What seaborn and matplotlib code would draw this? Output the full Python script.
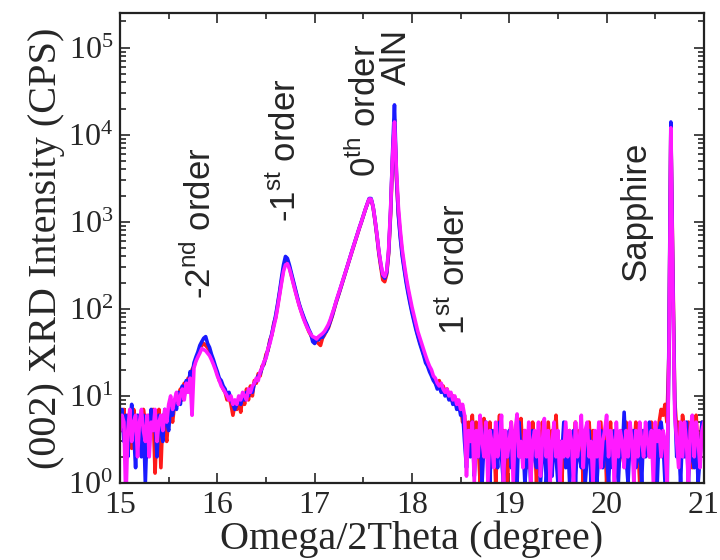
import numpy as np
import pandas as pd
import matplotlib
matplotlib.use("Agg")
import matplotlib.pyplot as plt
import seaborn as sns
from matplotlib.ticker import LogLocator, MultipleLocator, NullFormatter

# Data: scan grid 15.00 .. 21.00 deg, step 0.02
two_theta = np.round(np.arange(0, 301) * 0.02 + 15.0, 2)

blue = [
    5, 7, 3, 6, 2, 5, 8, 4, 1.5, 6,
    4, 2, 6, 1, 5, 3, 7, 4, 5, 2,
    6, 4, 3, 7, 5, 4, 8, 6, 9, 7,
    11, 8, 13, 10, 15, 12, 19, 17, 24, 28,
    32, 38, 42, 46, 48, 40, 36, 30, 26, 22,
    19, 16, 15, 13, 12, 10, 11, 9, 8, 7,
    8, 9, 8, 10, 9, 11, 10, 12, 11, 14,
    15, 17, 18, 21, 24, 28, 34, 42, 52, 66,
    85, 115, 160, 230, 320, 400, 380, 320, 260, 210,
    170, 140, 115, 98, 85, 74, 66, 58, 52, 42,
    40, 46, 44, 48, 47, 52, 55, 62, 72, 84,
    100, 120, 140, 165, 195, 230, 270, 320, 380, 450,
    530, 620, 730, 860, 1000, 1180, 1380, 1600, 1850, 1850,
    1500, 1050, 700, 450, 320, 240, 225, 260, 450, 1300,
    6000, 22000, 3500, 1200, 650, 400, 280, 200, 150, 115,
    90, 72, 58, 48, 40, 34, 29, 24, 22, 19,
    17, 15, 14, 12, 13, 11, 12, 10, 11, 9,
    10, 8, 9, 7, 8, 6, 7, 3, 1.5, 4,
    2, 5, 1.2, 3, 2, 4, 1, 3, 5, 2,
    1, 4, 2, 3, 1.5, 5, 2, 1, 3, 2,
    4, 1.5, 2, 3, 1, 5, 2, 3, 1, 2,
    3, 1, 4, 2, 1.5, 3, 1, 2, 4, 1,
    2, 3, 1.2, 4, 2, 1, 3, 2, 5, 1.5,
    3, 1, 2, 4, 1, 3, 2, 1.5, 3, 1,
    2, 4, 1, 3, 2, 1, 2.5, 4, 1.5, 3,
    2, 1, 3, 1.5, 4, 2, 1, 3, 2, 6.5,
    2, 1, 3, 2, 4, 1.5, 2, 3, 1, 4,
    2, 3, 5, 2, 4, 3, 1, 4, 5, 3,
    1, 0.5, 40, 14000, 250, 8, 2, 3, 1, 4,
    2, 5, 1, 3, 2, 1.5, 4, 1, 2, 5,
    3,
]

red = [
    6, 4, 7, 3, 6, 5, 2.5, 7, 5, 4,
    6, 3, 7, 5, 2, 6, 4, 7, 1.3, 5,
    7, 1.5, 6, 4, 3, 6, 7, 5, 8, 9,
    8, 12, 9, 14, 11, 16, 14, 20, 22, 26,
    29, 34, 38, 40, 38, 36, 33, 28, 24, 21,
    18, 15, 14, 12, 11, 9, 10, 8, 6, 8,
    7, 9, 6.5, 10, 8, 12, 9, 13, 10, 15,
    14, 18, 17, 22, 23, 30, 33, 44, 50, 68,
    80, 110, 150, 210, 290, 350, 345, 300, 245, 200,
    165, 135, 112, 95, 82, 72, 63, 55, 50, 45,
    44, 42, 40, 38, 46, 50, 56, 60, 70, 82,
    98, 118, 138, 162, 192, 228, 268, 318, 375, 445,
    525, 615, 720, 850, 990, 1170, 1370, 1590, 1820, 1800,
    1480, 1030, 680, 430, 300, 215, 205, 250, 430, 1200,
    5000, 15000, 3200, 1250, 700, 430, 300, 215, 160, 122,
    95, 76, 62, 50, 42, 36, 30, 26, 23, 20,
    18, 16, 14, 13, 15, 12, 13, 11, 12, 10,
    9, 10, 8, 9, 7, 8, 5, 6, 3, 5,
    4, 6, 2, 5, 3, 1, 4, 5.5, 2, 3,
    5, 2, 4, 1, 3, 6, 2, 4, 3, 1,
    3, 5, 2, 4, 2, 3, 5.5, 2, 4, 1.5,
    4, 2, 5, 3, 1, 4, 2, 5, 3, 2,
    5, 2, 4, 3, 6, 2, 3, 1, 4, 3,
    2, 4, 1.5, 3, 5, 2, 4, 3, 1, 4,
    3, 5, 2, 4, 1.5, 3, 2, 5, 2, 4,
    1, 3, 5, 2, 3, 4, 1.5, 2, 4, 3,
    5, 2, 3, 4, 2, 5, 3, 1, 4, 2,
    3, 4, 2, 5, 3, 4, 2, 5, 7, 6,
    8, 5, 30, 12000, 300, 9, 4, 5, 2, 6,
    4, 2, 5, 3, 1.5, 4, 6, 2, 3, 5,
    4,
]

magenta = [
    4, 6, 5, 0.6, 4, 7, 3, 5, 6, 2,
    5, 7, 4, 3, 6, 2, 5, 4, 7, 3,
    5, 6, 4, 7, 5, 8, 10, 7, 9, 11,
    8, 10, 12, 9, 14, 11, 16, 6, 21, 25,
    28, 31, 35, 34, 33, 31, 29, 26, 23, 20,
    17, 15, 13, 12, 11, 10, 9, 10, 8, 9,
    8, 10, 9, 11, 10, 9, 12, 11, 13, 14,
    16, 15, 19, 21, 25, 27, 35, 40, 50, 62,
    78, 105, 145, 200, 270, 320, 330, 290, 240, 195,
    160, 132, 110, 94, 80, 70, 62, 56, 51, 48,
    47, 45, 48, 50, 52, 55, 60, 66, 75, 88,
    102, 122, 144, 168, 198, 232, 272, 322, 382, 452,
    530, 620, 730, 860, 1000, 1180, 1380, 1600, 1830, 1820,
    1500, 1060, 710, 460, 330, 250, 235, 275, 480, 1400,
    5500, 14000, 4000, 1500, 800, 480, 330, 235, 175, 135,
    105, 84, 68, 55, 47, 40, 34, 29, 25, 22,
    20, 17, 16, 14, 13, 14, 12, 11, 12, 10,
    11, 9, 10, 8, 9, 7, 8, 6, 1.2, 4,
    3, 5, 1, 4, 2, 6, 3, 2, 5, 1,
    4, 3, 1.5, 5, 2, 3, 6, 1, 4, 2,
    3, 5, 1, 4, 6.2, 2, 3, 1.5, 4, 2,
    5, 1, 3, 4, 2, 5, 1.2, 3, 5.5, 2,
    4, 1, 3, 5, 2, 4, 1, 3, 2, 5,
    2, 4, 3, 1, 5, 2, 3, 6, 1.5, 4,
    5, 2, 3, 1, 4, 2, 5, 1.5, 3, 4,
    6, 2, 4, 3, 1, 5, 2, 4, 3, 1.5,
    4, 2, 5, 3, 1, 4, 2, 5, 3, 2,
    5, 3, 2, 4, 1, 5, 3, 4, 2, 4,
    3, 1, 25, 12000, 200, 6, 3, 1.5, 5, 2,
    5, 3, 1, 4, 6, 2, 5, 3, 1.5, 4,
    5,
]

series_names = ["red", "blue", "magenta"]
series_colors = {"red": "#ff1a1a", "blue": "#1a1aff", "magenta": "#ff1aff"}

df = pd.concat([
    pd.DataFrame({"x": two_theta, "y": red, "scan": "red"}),
    pd.DataFrame({"x": two_theta, "y": blue, "scan": "blue"}),
    pd.DataFrame({"x": two_theta, "y": magenta, "scan": "magenta"}),
], ignore_index=True)

sns.set_style("ticks")
plt.rcParams["font.family"] = ["Liberation Serif", "DejaVu Serif"]
plt.rcParams["mathtext.fontset"] = "custom"
plt.rcParams["mathtext.rm"] = "Liberation Serif"

fig = plt.figure(figsize=(7.2, 5.6), dpi=100)
ax = fig.add_axes([0.1667, 0.1375, 0.8110, 0.8393])
ax.set_yscale("log")

for name in series_names:
    sns.lineplot(data=df[df["scan"] == name], x="x", y="y", color=series_colors[name],
                 lw=2.6, ax=ax, legend=False, estimator=None, sort=False)

ax.set_xlim(15, 21)
ax.set_ylim(1, 2.5e5)
ax.xaxis.set_major_locator(MultipleLocator(1))
ax.xaxis.set_minor_locator(MultipleLocator(0.5))
ax.yaxis.set_major_locator(LogLocator(base=10, numticks=10))
ax.yaxis.set_minor_locator(LogLocator(base=10, subs=np.arange(2, 10), numticks=20))
ax.yaxis.set_minor_formatter(NullFormatter())

ax.tick_params(which="both", direction="in", top=True, right=True, width=1.2, labelsize=23)
ax.tick_params(which="major", length=7)
ax.tick_params(which="minor", length=4)
ax.tick_params(axis="x", which="major", pad=6)
ax.tick_params(axis="y", which="major", pad=5)
for s in ax.spines.values():
    s.set_linewidth(1.6)
    s.set_color("#222222")

ax.set_xlabel("Omega/2Theta (degree)", fontsize=29, labelpad=0)
ax.set_ylabel("(002) XRD Intensity (CPS)", fontsize=29, labelpad=2)

sans = ["Liberation Sans", "DejaVu Sans"]
labels = [
    (15.82, 130, r"-2$^{\mathregular{nd}}$ order"),
    (16.71, 1000, r"-1$^{\mathregular{st}}$ order"),
    (17.52, 3300, r"0$^{\mathregular{th}}$ order"),
    (17.84, 3.7e4, "AlN"),
    (18.44, 50, r"1$^{\mathregular{st}}$ order"),
    (20.30, 210, "Sapphire"),
]
for lx, ly, txt in labels:
    ax.text(lx, ly, txt, rotation=90, ha="center", va="bottom", fontsize=25, family=sans)

fig.savefig("out.png", dpi=100)
